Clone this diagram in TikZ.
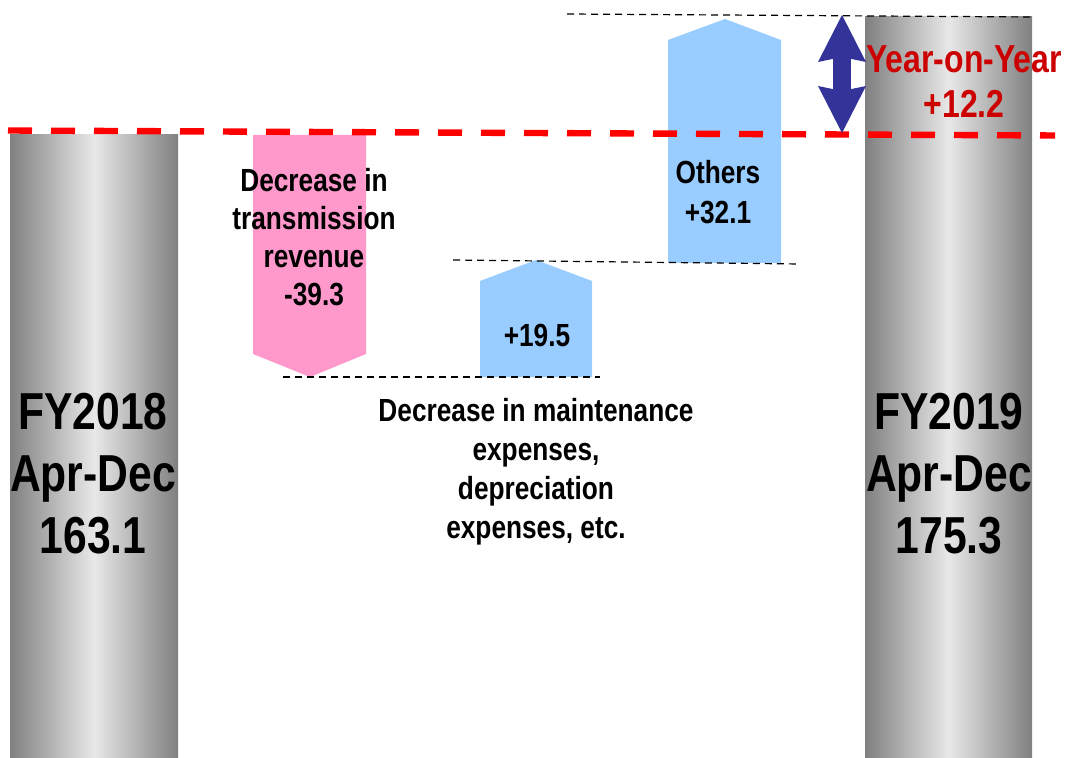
\documentclass[tikz,border=0pt]{standalone}
\usepackage{fontspec}
\setmainfont{Liberation Sans}
\newfontfamily\narrowsans[FakeStretch=0.82]{Liberation Sans}
\usepackage{tikz}
\usetikzlibrary{arrows.meta}

\definecolor{lossPink}{HTML}{FF99CC}
\definecolor{gainBlue}{HTML}{99CCFF}
\definecolor{yoyNavy}{HTML}{333399}
\definecolor{yoyRed}{HTML}{CC0000}
\definecolor{pillarDark}{HTML}{808080}
\definecolor{pillarLight}{HTML}{E8E8E8}

\begin{document}
\begin{tikzpicture}[x=0.5pt, y=-0.5pt,
		pillar/.style={left color=pillarDark, right color=pillarDark, middle color=pillarLight},
		level line/.style={black, line width=0.6pt, dash pattern=on 3.5pt off 2.5pt},
		base line/.style={red, line width=3.2pt, dash pattern=on 12pt off 9.5pt},
		yoy arrow/.style={yoyNavy, line width=9pt,
			{Stealth[length=23.5pt, width=24pt, inset=2.5pt, line width=0pt]}-{Stealth[length=23.5pt, width=24pt, inset=2.5pt, line width=0pt]}},
		pillar text/.style={font=\narrowsans\bfseries\fontsize{26pt}{31pt}\selectfont, align=center, inner sep=0pt},
		delta text/.style={font=\narrowsans\bfseries\fontsize{16pt}{19pt}\selectfont, align=center, inner sep=0pt},
		others text/.style={font=\narrowsans\bfseries\fontsize{16pt}{20pt}\selectfont, align=center, inner sep=0pt},
		note text/.style={font=\narrowsans\bfseries\fontsize{16pt}{19.5pt}\selectfont, align=center, inner sep=0pt},
		yoy text/.style={font=\narrowsans\bfseries\fontsize{19.5pt}{22.5pt}\selectfont, text=yoyRed, align=center, inner sep=0pt}]
			\useasboundingbox (0,0) rectangle (1070,758);
			
			% Pillars for both years
			\path[pillar] (10,135) rectangle (178,758);
			\path[pillar] (865,17) rectangle (1032,758);
			
			% Changes between the two years
			\fill[lossPink] (253,135) -- (366,135) -- (366,354) -- (310,377) -- (253,354) -- cycle;
			\fill[gainBlue] (480,377) -- (592,377) -- (592,281) -- (536,260) -- (480,281) -- cycle;
			\fill[gainBlue] (668,263) -- (781,263) -- (781,40) -- (725,19) -- (668,40) -- cycle;
			
			% Levels reached after each change
			\draw[level line] (283,377) -- (600,377);
			\draw[level line] (453,260) -- (800,264);
			\draw[level line] (567,14) -- (1032,17);
			
			% Level of FY2018
			\draw[base line] (8,130.5) -- (1055,135.5);
			
			% Year-on-year difference
			\coordinate (yoy top) at (842,15);
			\coordinate (yoy bottom) at (842,133);
			\draw[yoy arrow] (yoy top) -- (yoy bottom);
			
			% Labels
			\node[pillar text] (fy2018) at (93,474) {FY2018\\Apr-Dec\\163.1};
			\node[pillar text] (fy2019) at (949,474) {FY2019\\Apr-Dec\\175.3};
			\node[delta text] (transmission) at (314,237) {Decrease in\\transmission\\revenue\\-39.3};
			\node[delta text] (maintenance) at (537,335) {+19.5};
			\node[others text] (others) at (718,192) {Others\\+32.1};
			\node[note text] (maintenance note) at (536,472) {Decrease in maintenance\\expenses,\\depreciation\\expenses, etc.};
			\node[yoy text] (yoy) at (964,82) {Year-on-Year\\+12.2};
			
		\end{tikzpicture}
\end{document}
